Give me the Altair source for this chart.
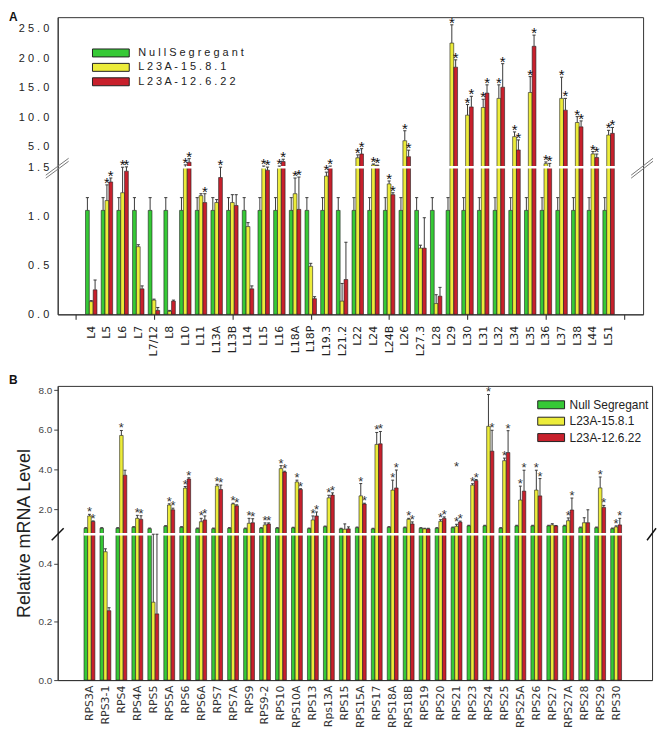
import altair as alt
import pandas as pd

SERIES = ["Null Segregant", "L23A-15.8.1", "L23A-12.6.22"]
COLORS = ["#36c936", "#ecec3a", "#c8202c"]

# ---------------- Panel A (large subunit) ----------------
cats_A = ["L4", "L5", "L6", "L7", "L7/12", "L8", "L10", "L11", "L13A", "L13B", "L14",
          "L15", "L16", "L18A", "L18P", "L19.3", "L21.2", "L22", "L24", "L24B", "L26",
          "L27.3", "L28", "L29", "L30", "L31", "L32", "L34", "L35", "L36", "L37", "L38",
          "L44", "L51"]
null_A = [1.06, 1.06, 1.06, 1.06, 1.06, 1.06, 1.06, 1.06, 1.06, 1.06, 1.06,
          1.06, 1.06, 1.06, 1.06, 1.06, 1.06, 1.06, 1.06, 1.06, 1.06,
          1.06, 1.06, 1.06, 1.06, 1.06, 1.06, 1.06, 1.06, 1.06, 1.06, 1.06,
          1.06, 1.06]
null_err_A = [0.13, 0.13, 0.13, 0.13, 0.13, 0.13, 0.13, 0.13, 0.13, 0.13, 0.13,
              0.13, 0.13, 0.13, 0.13, 0.13, 0.13, 0.13, 0.13, 0.13, 0.13,
              0.13, 0.13, 0.13, 0.13, 0.13, 0.13, 0.13, 0.13, 0.13, 0.13, 0.13,
              0.13, 0.13]
l15_A = [0.13, 1.16, 1.24, 0.69, 0.145, 0.03, 1.6, 1.21, 1.14, 1.14, 0.895,
         1.6, 1.6, 1.23, 0.49, 1.41, 0.135, 3.1, 1.9, 1.33, 6.0,
         0.675, 0.11, 22.6, 10.35, 11.65, 13.2, 6.7, 14.2, 2.1, 13.2, 9.1,
         3.76, 6.97]
l15_err_A = [0.01, 0.16, 0.26, 0.02, 0.01, 0.01, 0.3, 0.02, 0.03, 0.08, 0.04,
             0.1, 0.1, 0.16, 0.03, 0.04, 0.18, 0.5, 0.15, 0.03, 1.7,
             0.03, 0.09, 3.1, 1.8, 1.4, 2.3, 0.8, 2.7, 0.3, 3.6, 1.0,
             0.4, 0.8]
l12_A = [0.25, 1.35, 1.46, 0.26, 0.04, 0.135, 2.36, 1.14, 1.395, 1.11, 0.26,
         1.47, 2.46, 1.07, 0.16, 1.6, 0.355, 3.76, 1.75, 1.22, 3.3,
         0.675, 0.185, 18.5, 11.75, 14.1, 15.1, 4.44, 22.05, 1.55, 11.2, 8.37,
         3.14, 7.26]
l12_err_A = [0.1, 0.04, 0.1, 0.03, 0.03, 0.01, 0.6, 0.09, 0.11, 0.11, 0.03,
             0.05, 0.4, 0.33, 0.02, 0.1, 0.38, 0.9, 0.1, 0.02, 1.1,
             0.31, 0.09, 1.25, 1.8, 1.4, 4.0, 1.7, 1.9, 0.6, 2.0, 1.0,
             0.6, 1.0]
star15_A = [0, 1, 1, 0, 0, 0, 1, 0, 0, 0, 0, 1, 1, 1, 0, 1, 0, 1, 1, 1, 1,
            0, 0, 1, 1, 1, 1, 1, 1, 1, 1, 1, 1, 1]
star12_A = [0, 1, 1, 0, 0, 0, 1, 1, 1, 0, 0, 1, 1, 1, 0, 1, 0, 1, 1, 1, 1,
            0, 0, 1, 1, 1, 1, 1, 1, 1, 1, 1, 1, 1]
ticks_A = [0.0, 0.5, 1.0, 1.5, 5.0, 10.0, 15.0, 20.0, 25.0]

# ---------------- Panel B (small subunit) ----------------
cats_B = ["RPS3A", "RPS3-1", "RPS4", "RPS4A", "RPS5", "RPS5A", "RPS6", "RPS6A", "RPS7",
          "RPS7A", "RPS9", "RPS9-2", "RPS10", "RPS10A", "RPS13", "Rps13A", "RPS15",
          "RPS15A", "RPS17", "RPS18A", "RPS18B", "RPS19", "RPS20", "RPS21", "RPS23",
          "RPS24", "RPS25", "RPS25A", "RPS26", "RPS27", "RPS27A", "RPS28", "RPS29", "RPS30"]
null_B = [1.05, 1.05, 1.05, 1.1, 1.03, 1.15, 1.1, 1.03, 1.03,
          1.05, 1.03, 1.05, 1.05, 1.07, 1.03, 1.13, 1.02,
          1.08, 1.02, 1.1, 1.08, 1.05, 1.05, 1.08, 1.17,
          1.17, 1.05, 1.17, 1.17, 1.17, 1.17, 1.08, 1.08, 1.03]
null_err_B = [0.03, 0.03, 0.03, 0.03, 0.03, 0.03, 0.03, 0.03, 0.03,
              0.03, 0.03, 0.03, 0.03, 0.03, 0.03, 0.03, 0.03,
              0.03, 0.03, 0.03, 0.03, 0.03, 0.03, 0.03, 0.03,
              0.03, 0.03, 0.03, 0.03, 0.03, 0.03, 0.03, 0.03, 0.03]
l15_B = [1.67, 0.44, 5.72, 1.55, 0.267, 2.22, 3.07, 1.38, 3.18,
         2.27, 1.3, 1.22, 4.05, 3.38, 1.47, 2.58, 1.0,
         2.68, 5.27, 2.97, 1.5, 1.02, 1.4, 1.15, 3.22,
         6.18, 4.45, 2.47, 2.97, 1.22, 1.43, 1.33, 3.08, 1.12]
l15_err_B = [0.08, 0.01, 0.25, 0.15, 0.35, 0.06, 0.08, 0.17, 0.08,
             0.04, 0.25, 0.1, 0.15, 0.09, 0.2, 0.13, 0.27,
             0.62, 0.6, 0.5, 0.05, 0.03, 0.08, 0.1, 0.07,
             1.6, 0.13, 0.7, 1.0, 0.06, 0.14, 0.25, 0.55, 0.05]
l12_B = [1.39, 0.238, 3.72, 1.5, 0.227, 1.98, 3.53, 1.47, 3.0,
         2.18, 1.33, 1.27, 3.88, 3.0, 1.67, 2.72, 1.02,
         2.27, 5.3, 3.08, 1.27, 1.02, 1.55, 1.36, 3.45,
         4.93, 4.86, 2.92, 2.68, 1.17, 1.97, 1.33, 2.1, 1.22]
l12_err_B = [0.03, 0.01, 0.25, 0.18, 0.4, 0.08, 0.06, 0.2, 0.22,
             0.05, 0.2, 0.05, 0.04, 0.04, 0.2, 0.11, 0.1,
             0.04, 0.62, 0.9, 0.1, 0.03, 0.07, 0.05, 0.05,
             1.05, 1.1, 1.05, 0.87, 0.02, 0.6, 0.65, 0.1, 0.33]
star15_B = [1, 0, 1, 1, 0, 1, 1, 1, 1, 1, 1, 1, 1, 1, 1, 1, 0,
            1, 1, 1, 1, 0, 1, 1, 1, 1, 1, 1, 1, 0, 1, 0, 1, 1]
star12_B = [1, 0, 0, 1, 0, 1, 1, 1, 1, 1, 1, 1, 1, 1, 1, 1, 0,
            1, 1, 1, 1, 0, 1, 1, 1, 1, 1, 1, 1, 0, 1, 0, 1, 1]
extra_star_cat_B = ["RPS21"]
extra_star_val_B = [4.05]
ticks_B = [0.0, 0.2, 0.4, 2.0, 4.0, 6.0, 8.0]

# ---------------- broken-axis transforms ----------------
KA = 0.06          # upper-segment compression, panel A (break at 1.5)
KB = 0.06814       # upper-segment compression, panel B (break 0.5 -> 0.75)


def dexpr_A(V):
    return f"(({V}) <= 1.5 ? ({V}) : 1.5 + (({V}) - 1.5) * {KA})"


def dexpr_B(V):
    return f"(({V}) <= 0.5 ? ({V}) : ((({V}) <= 0.75) ? 0.5 : 0.5 + (({V}) - 0.75) * {KB}))"


def disp_A(v):
    return v if v <= 1.5 else 1.5 + (v - 1.5) * KA


def disp_B(v):
    if v <= 0.5:
        return v
    if v <= 0.75:
        return 0.5
    return 0.5 + (v - 0.75) * KB


def build(cats, g, ge, y, ye, r, re, sy, sr):
    rows = []
    for i, c in enumerate(cats):
        trip = [(g[i], ge[i], 0), (y[i], ye[i], sy[i]), (r[i], re[i], sr[i])]
        for s, (v, e, st) in enumerate(trip):
            rows.append(dict(idx=i + 1, cat=c, series=SERIES[s], sidx=s, v=v, e=e, star=st))
    return pd.DataFrame(rows)


def spaced(s):
    return " ".join(list(s))


def tick_label_expr(ticks, dispf, spacing):
    parts = []
    for t in ticks:
        lab = f"{t:.1f}"
        if spacing:
            lab = spaced(lab)
        parts.append(f"abs(datum.value - {dispf(t):.6f}) < 0.0005 ? '{lab}' : ")
    return "".join(parts) + "''"


def cat_label_expr(cats, n):
    arr = [""] + list(cats) + [""] * (n - len(cats))
    return "[" + ",".join(f"'{c}'" for c in arr) + "][datum.value] || ''"


def panel(df, dexpr, off, w, cap, xdom, ydom, width, height, xa, ya,
          star_color, star_size, break_disp, white_x, letter, letter_y, break_marks,
          legend_spec, extra=None):
    xs = alt.Scale(domain=xdom, nice=False, zero=False)
    ys = alt.Scale(domain=ydom, nice=False, zero=False)
    color = alt.Color("series:N", scale=alt.Scale(domain=SERIES, range=COLORS), legend=None)
    base = alt.Chart(df).transform_calculate(
        xc=f"datum.idx + (datum.sidx - 1) * {off}",
        x0=f"datum.idx + (datum.sidx - 1) * {off} - {w / 2}",
        x1=f"datum.idx + (datum.sidx - 1) * {off} + {w / 2}",
        cx0=f"datum.idx + (datum.sidx - 1) * {off} - {cap}",
        cx1=f"datum.idx + (datum.sidx - 1) * {off} + {cap}",
        d=dexpr("datum.v"),
        dt=dexpr("datum.v + datum.e"),
        zero="0",
    )
    bars = base.mark_rect(stroke="#1e1e1e", strokeWidth=0.6).encode(
        x=alt.X("x0:Q", scale=xs, axis=xa),
        x2="x1:Q",
        y=alt.Y("d:Q", scale=ys, axis=ya),
        y2="zero:Q",
        color=color,
    )
    one = pd.DataFrame({"b": [break_disp], "wx0": [white_x[0]], "wx1": [white_x[1]]})
    white = alt.Chart(one).mark_rule(color="white", strokeWidth=2.5).encode(
        x=alt.X("wx0:Q", scale=xs, axis=xa), x2="wx1:Q",
        y=alt.Y("b:Q", scale=ys, axis=ya),
    )
    err = base.transform_filter("datum.e > 0").mark_rule(color="#3a3a3a", strokeWidth=1).encode(
        x=alt.X("xc:Q", scale=xs, axis=xa),
        y=alt.Y("d:Q", scale=ys, axis=ya), y2="dt:Q",
    )
    caps = base.transform_filter("datum.e > 0").mark_rule(color="#3a3a3a", strokeWidth=1).encode(
        x=alt.X("cx0:Q", scale=xs, axis=xa), x2="cx1:Q",
        y=alt.Y("dt:Q", scale=ys, axis=ya),
    )
    stars = base.transform_filter("datum.star == 1").mark_text(
        text="*", fontSize=star_size, font="Liberation Sans", color=star_color, dy=-2,
        baseline="middle"
    ).encode(
        x=alt.X("xc:Q", scale=xs, axis=xa),
        y=alt.Y("dt:Q", scale=ys, axis=ya),
    )
    layers = [bars, white, err, caps, stars]
    if extra is not None:
        layers.append(extra.mark_text(
            text="*", fontSize=star_size, font="Liberation Sans", color=star_color, dy=-2,
            baseline="middle"
        ).encode(
            x=alt.X("xi:Q", scale=xs, axis=xa),
            y=alt.Y("d:Q", scale=ys, axis=ya),
        ))
    let = alt.Chart(pd.DataFrame({"t": [letter]})).mark_text(
        text=letter, align="left", baseline="top", fontSize=12, fontWeight="bold",
        font="Liberation Sans", color="#111"
    ).encode(x=alt.value(-49), y=alt.value(letter_y))
    layers.append(let)
    for (px0, px1, o1, o2, col, sw) in break_marks:
        layers.append(alt.Chart(one).mark_rule(
            color=col, strokeWidth=sw, yOffset=o1, y2Offset=o2
        ).encode(
            x=alt.value(px0), x2=alt.value(px1),
            y=alt.Y("b:Q", scale=ys, axis=ya), y2="b:Q",
        ))
    # legend drawn as marks (keys and labels)
    lx0, lx1, ly, lh, lstep, ltx, lfont, lsize, labels = legend_spec
    for k, s in enumerate(SERIES):
        yc = ly + k * lstep
        kd = pd.DataFrame({"series": [s], "lab": [labels[k]]})
        layers.append(alt.Chart(kd).mark_rect(stroke="#222", strokeWidth=1).encode(
            x=alt.value(lx0), x2=alt.value(lx1),
            y=alt.value(yc - lh / 2), y2=alt.value(yc + lh / 2),
            color=color,
        ))
        layers.append(alt.Chart(kd).mark_text(
            align="left", baseline="middle", font=lfont, fontSize=lsize, color="#222"
        ).encode(
            x=alt.value(ltx), y=alt.value(yc), text="lab:N",
        ))
    return alt.layer(*layers).properties(width=width, height=height)


# ---------------- Panel A build ----------------
dfA = build(cats_A, null_A, null_err_A, l15_A, l15_err_A, l12_A, l12_err_A, star15_A, star12_A)
WA, HA = 589, 299
x_axis_A = alt.Axis(
    title=None,
    values=list(range(0, 36)), labelExpr=cat_label_expr(cats_A, 35), labelAngle=-90,
    labelFont="DejaVu Sans", labelFontSize=11, labelColor="#222", labelPadding=6,
    tickSize=5, tickColor="#222",
    tickOpacity={"condition": {"test": "datum.value % 5 == 0", "value": 1}, "value": 0},
    domainColor="#333", grid=False, labelOverlap=False, labelFlush=False,
)
y_axis_A = alt.Axis(
    title=None,
    values=[round(disp_A(t), 6) for t in ticks_A],
    labelExpr=tick_label_expr(ticks_A, disp_A, True),
    ticks=False, labelPadding=9, labelFont="Liberation Sans", labelFontSize=11,
    labelColor="#222", domainColor="#333", grid=False, labelOverlap=False, labelFlush=False,
)
legend_A = (35, 72, 36, 8, 14.5, 81, "Liberation Sans", 11, [spaced(s) for s in SERIES])
marks_A = [(-12, 11, 8, -9, "#777", 1), (-12, 11, 11, -6, "#777", 1),
           (WA - 12, WA + 10, 8, -9, "#777", 1), (WA - 12, WA + 10, 11, -6, "#777", 1)]
panelA = panel(dfA, dexpr_A, 0.245, 0.24, 0.1, [-1.14, 36.2], [0, 3.03], WA, HA,
               x_axis_A, y_axis_A, "#111", 15, disp_A(1.5), [0.55, 34.45],
               "A", -5, marks_A, legend_A)

# ---------------- Panel B build ----------------
dfB = build(cats_B, null_B, null_err_B, l15_B, l15_err_B, l12_B, l12_err_B, star15_B, star12_B)
extra_df = pd.DataFrame({"cat": extra_star_cat_B, "v": extra_star_val_B})
extra_df["xi"] = [cats_B.index(c) + 1 for c in extra_star_cat_B]
extra_chart = alt.Chart(extra_df).transform_calculate(d=dexpr_B("datum.v"))
WB, HB = 598, 296
x_axis_B = alt.Axis(
    title=None,
    values=list(range(1, 35)), labelExpr=cat_label_expr(cats_B, 35), labelAngle=-90,
    labelFont="DejaVu Sans", labelFontSize=11, labelColor="#333", labelPadding=5,
    ticks=False, domainColor="#333", grid=False, labelOverlap=False, labelFlush=False,
)
y_axis_B = alt.Axis(
    title="Relative mRNA Level",
    values=[round(disp_B(t), 6) for t in ticks_B],
    labelExpr=tick_label_expr(ticks_B, disp_B, False),
    tickSize=4, tickColor="#444", labelPadding=2, labelFont="Liberation Sans",
    labelFontSize=10, labelColor="#444", domainColor="#333", grid=False,
    labelOverlap=False, labelFlush=False,
    titleFont="Liberation Sans", titleFontSize=18, titleFontWeight="normal",
    titleColor="#222", titlePadding=4,
)
legend_B = (483, 510, 19, 8, 16.5, 515, "Liberation Sans", 12, SERIES)
marks_B = [(-6, 6, 6, -6, "#111", 1.5), (WB - 5, WB + 4, 6, -6, "#111", 1.5)]
panelB = panel(dfB, dexpr_B, 0.23, 0.22, 0.09, [-0.99, 36.25], [0, 1.0085], WB, HB,
               x_axis_B, y_axis_B, "#333", 13,
               disp_B(0.5), [0.63, 34.37], "B", -11, marks_B, legend_B, extra=extra_chart)

chart = alt.vconcat(panelA, panelB, spacing=16).properties(
    padding=0
).configure_view(stroke="#333", strokeWidth=1)

chart.save("out.html", embed_options={"renderer": "svg", "actions": False})
